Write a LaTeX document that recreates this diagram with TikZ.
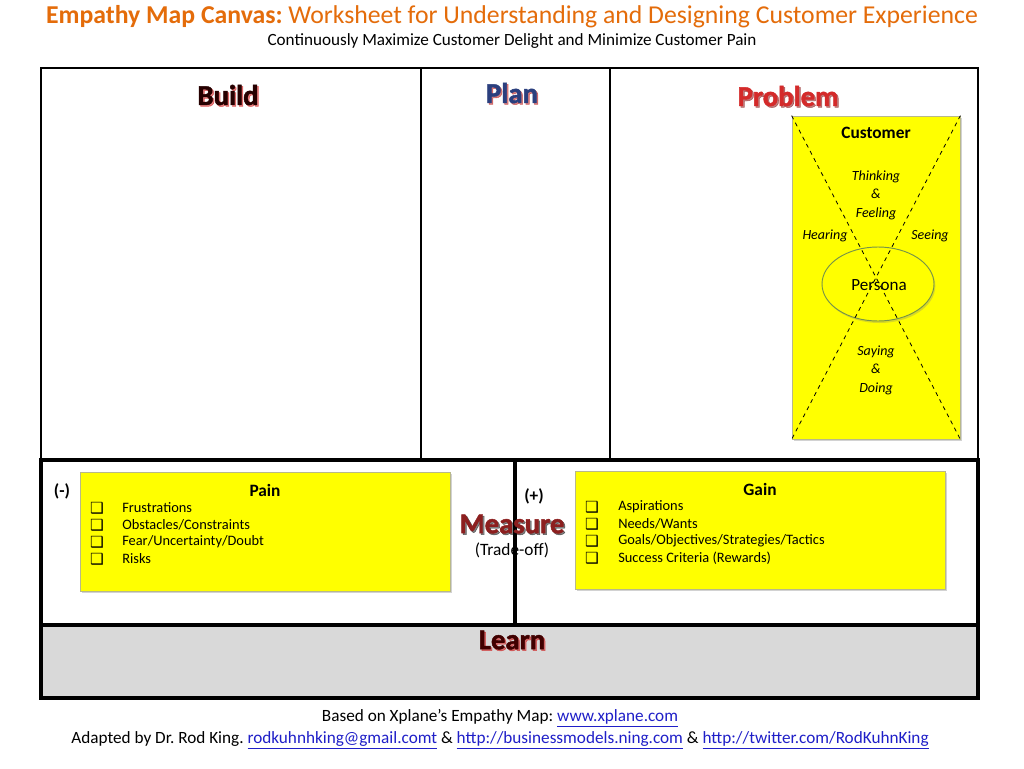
\documentclass[tikz,border=0pt]{standalone}
\usepackage{fontspec}
\setmainfont{Carlito}
\newfontfamily\symfont{DejaVu Sans}
\newfontfamily\headfont[FakeBold=1.6]{Carlito}
\usetikzlibrary{shadows,shapes.geometric}
\definecolor{orng}{HTML}{E46C0A}
\definecolor{ybox}{HTML}{FFFF00}
\definecolor{yedge}{HTML}{B8B88A}
\definecolor{lgray}{HTML}{D9D9D9}
\definecolor{linkblue}{HTML}{1F1FC8}
\definecolor{darkred}{HTML}{8C1F1F}
\definecolor{navy}{HTML}{2B3F7E}
\definecolor{probred}{HTML}{D42A2A}
\tikzset{
  yboxs/.style={draw=yedge, line width=0.6pt, fill=ybox, inner sep=0pt,
    drop shadow={opacity=0.35, shadow xshift=1.2pt, shadow yshift=-1.6pt}},
  headtxt/.style={font=\headfont\fontsize{21.5}{24}\selectfont\bfseries, inner sep=0pt},
  headsh/.style={headtxt, opacity=0.5},
  boxtitle/.style={font=\fontsize{13}{15}\selectfont\bfseries, inner sep=0pt},
  itm/.style={font=\fontsize{10.8}{12}\selectfont, inner sep=0pt, anchor=west},
  chk/.style={font=\symfont\fontsize{11.5}{12}\selectfont, inner sep=0pt},
  ital/.style={font=\fontsize{10.5}{12.6}\selectfont\itshape, inner sep=0pt, align=center},
  footer/.style={font=\fontsize{12.9}{15}\selectfont, inner sep=0pt},
  thinline/.style={line width=0.8pt, black},
  thickline/.style={line width=2.3pt, black},
  diag/.style={dashed, line width=0.6pt},
}
\newcommand\lnk[1]{\textcolor{linkblue}{\underline{#1}}}
\frenchspacing
\begin{document}
\begin{tikzpicture}[x=0.75pt,y=-0.75pt]
\useasboundingbox (0,0) rectangle (1024,768);
\fill[white] (0,0) rectangle (1024,768);

% titles
\node[font=\fontsize{19.3}{22}\selectfont, text=orng, inner sep=0pt] (title) at (512,17)
  {\textbf{Empathy Map Canvas:} Worksheet for Understanding and Designing Customer Experience};
\node[font=\fontsize{12.85}{14}\selectfont, inner sep=0pt] (subtitle) at (512,41)
  {Continuously Maximize Customer Delight and Minimize Customer Pain};

% upper frame
\draw[thinline] (41,460) -- (41,68) -- (978,68) -- (978,460);
\draw[thinline] (421,68) -- (421,460);
\draw[thinline] (610,68) -- (610,460);

% lower frames
\draw[thickline] (41,460) rectangle (978,625);
\draw[thickline] (515,460) -- (515,625);
\draw[thickline, fill=lgray] (41,625) rectangle (978,698);

% headings
\node[headsh, text=red!80!black] (buildsh) at (229.5,96.5) {Build};
\node[headtxt, text=black!85!red] (build) at (228,95) {Build};
\node[headsh, text=red!70!black] (plansh) at (513.5,94.5) {Plan};
\node[headtxt, text=navy] (plan) at (512,93) {Plan};
\node[headsh, text=red!50!black] (problemsh) at (789.5,97.5) {Problem};
\node[headtxt, text=probred] (problem) at (788,96) {Problem};

% customer box
\node[yboxs, minimum width=126pt, minimum height=242.25pt] (cust) at (876,277.5) {};
\node[ellipse, draw=black!55!yellow!70!green, line width=0.7pt, fill=ybox, minimum width=84pt, minimum height=55.5pt,
  drop shadow={opacity=0.3, shadow xshift=1pt, shadow yshift=-1.5pt}] (persona) at (878,284) {};
\draw[diag] (cust.north west) -- (cust.south east);
\draw[diag] (cust.north east) -- (cust.south west);
\node[boxtitle] (custt) at (876,133) {Customer};
\node[ital] (think) at (876,195) {Thinking\\[1.2pt]\&\\[1.2pt]Feeling};
\node[ital] (hear) at (825,236) {Hearing};
\node[ital] (see) at (930,236) {Seeing};
\node[font=\fontsize{12.8}{15}\selectfont, inner sep=0pt] (personat) at (879,285) {Persona};
\node[ital] (say) at (876,370) {Saying\\[1.2pt]\&\\[1.2pt]Doing};

% pain / gain
\node[font=\fontsize{13}{15}\selectfont\bfseries, inner sep=0pt] (minus) at (62,491) {(-)};
\node[font=\fontsize{13}{15}\selectfont\bfseries, inner sep=0pt] (plus) at (534,496) {(+)};
\node[yboxs, minimum width=277.5pt, minimum height=89.25pt] (pain) at (265,531.5) {};
\node[boxtitle] (paint) at (265,490) {Pain};
\node[chk] (pc1) at (97,508) {❑};
\node[chk] (pc2) at (97,525) {❑};
\node[chk] (pc3) at (97,542) {❑};
\node[chk] (pc4) at (97,559) {❑};
\node[itm] (p1) at (122,508) {Frustrations};
\node[itm] (p2) at (122,525) {Obstacles/Constraints};
\node[itm] (p3) at (122,542) {Fear/Uncertainty/Doubt};
\node[itm] (p4) at (122,559) {Risks};

\node[yboxs, minimum width=277.5pt, minimum height=88.5pt] (gain) at (760,530) {};
\node[boxtitle] (gaint) at (760,489) {Gain};
\node[chk] (gc1) at (592,507) {❑};
\node[chk] (gc2) at (592,524) {❑};
\node[chk] (gc3) at (592,541) {❑};
\node[chk] (gc4) at (592,558) {❑};
\node[itm] (g1) at (618,507) {Aspirations};
\node[itm] (g2) at (618,524) {Needs/Wants};
\node[itm] (g3) at (618,541) {Goals/Objectives/Strategies/Tactics};
\node[itm] (g4) at (618,558) {Success Criteria (Rewards)};

% measure
\node[headsh, text=black] (measuresh) at (513.5,525.5) {Measure};
\node[headtxt, text=darkred] (measure) at (512,524) {Measure};
\node[font=\fontsize{13}{15}\selectfont, inner sep=0pt] (tradeoff) at (512,550) {(Trade-off)};

% learn
\node[headsh, text=red!80!black] (learnsh) at (513.5,641.5) {Learn};
\node[headtxt, text=black!75!red] (learn) at (512,640) {Learn};

% footer
\node[footer] (foot1) at (500,718) {Based on Xplane’s Empathy Map: \lnk{www.xplane.com}};
\node[footer] (foot2) at (500,740) {Adapted by Dr. Rod King. \lnk{rodkuhnhking@gmail.comt} \& \lnk{http://businessmodels.ning.com} \& \lnk{http://twitter.com/RodKuhnKing}};
\end{tikzpicture}
\end{document}
